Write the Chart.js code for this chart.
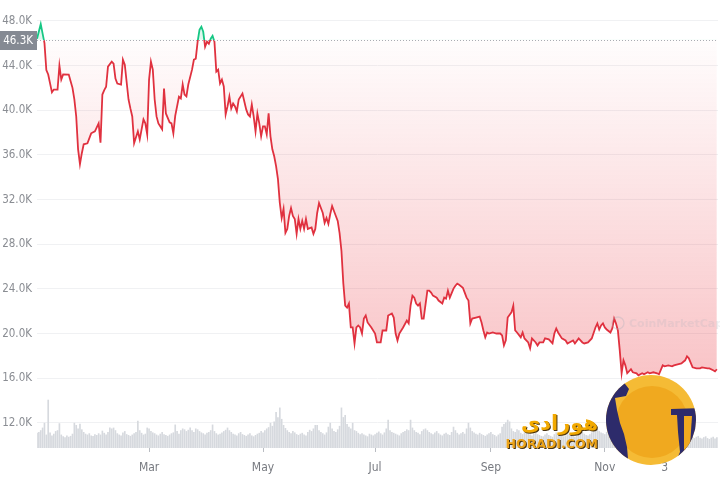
<!DOCTYPE html>
<html>
<head>
<meta charset="utf-8">
<script src="https://cdn.jsdelivr.net/npm/chart.js@4/dist/chart.umd.min.js"></script>
<style>
html,body{margin:0;padding:0;background:#fff;}
canvas{display:block;}
</style>
</head>
<body>
<canvas id="c" width="720" height="480"></canvas>
<script>
// ---- data (day index from 1 Jan 2022, price in thousands USD) ----
const BASELINE = 46.3;
const priceDays = [0,2,4,5,6,8,9,11,12,13,14,17,18,19,20,21,22,23,24,25,27,29,31,33,34,35,36,37,38,40,41,42,43,45,46,47,49,50,51,52,54,55,57,58,59,60,61,62,63,64,65,67,68,69,71,72,73,74,76,77,78,79,80,81,83,84,85,86,87,88,89,90,91,92,93,94,95,96,97,98,99,100,101,102,103,104,105,106,107,108,110,111,112,113,114,115,116,117,118,119,120,121,122,123,124,125,126,127,128,129,130,131,132,133,134,135,136,137,138,139,140,141,142,143,144,145,147,148,149,150,151,153,154,155,156,157,158,160,161,162,163,164,165,166,167,168,169,170,171,172,173,174,175,176,177,179,181,182,184,185,187,188,190,191,192,193,194,196,198,199,200,201,202,203,204,205,206,207,209,210,211,212,214,215,217,218,219,220,221,223,224,225,226,228,229,230,231,232,233,235,237,238,239,240,241,242,244,246,248,249,250,251,252,254,255,256,257,259,260,261,263,264,265,267,268,269,271,272,274,276,277,278,279,281,283,284,285,287,288,290,292,293,295,297,299,300,301,302,303,304,305,307,308,309,310,311,312,313,314,315,316,318,319,321,322,324,325,327,328,330,332,333,335,336,338,340,341,343,345,347,348,349,351,353,355,356,359,360,362,363,364];
const prices = [46.4,47.7,46.0,43.6,43.2,41.6,41.85,41.85,44.0,42.74,43.2,43.19,42.6,42.0,40.96,39.44,36.5,35.17,36.15,36.95,37.04,37.93,38.11,38.82,37.1,41.4,41.8,42.1,43.9,44.35,44.17,42.83,42.39,42.3,44.52,44.08,40.96,40.16,39.44,37.04,38.11,37.39,39.18,38.82,37.84,42.74,44.35,43.63,40.96,39.44,38.82,38.29,41.94,39.71,38.91,38.82,37.93,39.5,41.2,41.05,42.3,41.4,41.23,42.3,43.63,44.52,44.61,46.13,47.2,47.47,47.02,45.68,46.13,45.95,46.4,46.66,46.13,43.45,43.63,42.39,42.74,42.12,39.62,40.34,41.23,40.16,40.6,40.34,39.89,40.96,41.49,40.78,40.07,39.62,39.44,40.51,39.44,38.11,39.7,38.82,37.66,38.55,38.55,37.84,39.71,37.66,36.5,35.88,34.99,33.83,31.69,30.35,31.16,29.02,29.37,30.53,31.24,30.53,30.26,28.93,30.26,29.37,30.09,29.37,30.26,29.37,29.5,28.93,29.37,30.8,31.69,30.8,29.91,30.35,29.82,30.71,31.42,30.53,30.09,29.0,27.4,24.5,22.5,22.33,22.69,20.55,20.55,19.12,20.55,20.73,20.55,20.01,21.35,21.62,21.0,20.55,20.01,19.21,19.21,20.28,20.28,21.62,21.8,21.44,20.01,19.39,20.01,20.55,21.17,20.91,22.51,23.4,23.22,22.69,22.51,22.7,21.35,21.35,23.85,23.85,23.67,23.4,23.22,22.96,22.69,23.22,23.13,23.85,23.22,24.03,24.29,24.47,24.38,24.11,23.67,23.22,22.96,20.91,21.35,21.44,21.53,21.0,20.28,19.66,20.1,20.01,20.1,20.01,20.01,19.84,18.94,19.39,21.44,21.9,22.5,20.28,20.1,19.66,20.1,19.57,19.21,18.68,19.57,19.21,18.94,19.21,19.21,19.57,19.48,19.12,20.01,20.46,20.1,19.57,19.39,19.12,19.21,19.39,19.12,19.57,19.21,19.12,19.21,19.57,20.55,20.91,20.37,20.73,20.91,20.55,20.37,20.1,20.46,21.35,20.91,20.28,18.5,16.45,17.61,17.16,16.45,16.81,16.54,16.45,16.27,16.45,16.36,16.54,16.45,16.54,16.45,16.36,17.16,17.07,17.16,17.07,17.16,17.25,17.34,17.61,17.96,17.79,16.98,16.89,16.89,16.98,16.89,16.89,16.72,16.63,16.81];
// daily volume, billions USD (one per day, Jan 1 .. Dec 31)
const volumes = [
 34,36,40,46,57,30,110,35,28,32,
 38,40,56,30,26,24,28,25,27,32,
 57,52,44,55,42,36,32,30,33,28,
 27,31,29,33,30,39,34,30,36,46,
 44,46,40,33,30,28,35,38,31,29,
 27,30,33,36,62,40,34,30,32,46,
 44,38,35,33,30,28,32,36,31,29,
 27,30,33,35,53,38,32,40,44,42,
 38,41,46,40,36,44,42,38,35,33,
 30,34,36,40,53,38,33,30,32,35,
 38,41,46,40,36,32,30,28,33,36,
 31,29,27,30,33,28,26,29,32,34,
 38,35,40,44,47,57,50,60,82,70,
 92,66,52,45,40,36,33,38,35,31,
 29,32,34,30,28,36,41,38,44,52,
 52,40,36,33,30,35,48,57,44,38,
 36,42,50,92,70,75,54,48,44,57,
 40,38,34,31,33,30,28,26,32,30,
 28,31,34,37,33,30,35,44,64,40,
 36,34,32,30,28,33,36,38,42,40,
 64,46,40,36,34,31,38,42,44,40,
 36,33,31,35,38,33,30,28,32,34,
 31,29,36,48,40,34,30,33,36,32,
 44,57,46,38,35,32,30,34,31,29,
 27,30,33,36,31,29,26,30,33,48,
 54,58,64,60,44,38,36,42,40,34,
 31,35,38,33,30,28,32,34,31,29,
 27,26,30,33,29,27,25,31,35,32,
 29,27,26,28,31,33,30,27,25,28,
 30,33,36,32,29,28,31,35,38,45,
 42,38,35,33,31,36,40,48,55,76,
 110,98,85,70,60,52,45,40,38,36,
 40,38,35,33,31,30,34,36,33,30,
 28,30,32,29,27,26,28,31,29,27,
 25,27,30,26,24,23,25,28,33,30,
 26,24,22,25,27,23,21,24,26,22,
 20,23,25,21,24];
const xTickDays = [60, 121, 181, 243, 304, 336];
const xTickLabels = ['Mar', 'May', 'Jul', 'Sep', 'Nov', '3'];
const yTickValues = [12, 16, 20, 24, 28, 32, 36, 40, 44, 48];

const NARROW = '"Liberation Sans Narrow", "DejaVu Sans Condensed", Roboto, sans-serif';
const RED = '#e0313f', GREEN = '#16c784';

const priceData = priceDays.map((d, i) => ({x: d, y: prices[i]}));
const volData = volumes.map((v, i) => ({x: i, y: v}));

function lineGradient(c) {
  const chart = c.chart, area = chart.chartArea;
  if (!area) return RED;
  const yb = chart.scales.y.getPixelForValue(BASELINE);
  const g = chart.ctx.createLinearGradient(0, area.top, 0, area.bottom);
  const f = Math.min(1, Math.max(0, (yb - area.top) / (area.bottom - area.top)));
  g.addColorStop(0, GREEN); g.addColorStop(f, GREEN);
  g.addColorStop(f, RED); g.addColorStop(1, RED);
  return g;
}
function fillGradient(c) {
  const chart = c.chart, area = chart.chartArea;
  if (!area) return 'rgba(234,57,67,0.15)';
  const yb = chart.scales.y.getPixelForValue(BASELINE);
  const ylow = chart.scales.y.getPixelForValue(16);
  const g = chart.ctx.createLinearGradient(0, yb, 0, ylow);
  g.addColorStop(0, 'rgba(234,57,67,0.01)');
  g.addColorStop(1, 'rgba(234,57,67,0.30)');
  return g;
}

const overlay = {
  id: 'overlay',
  afterDatasetsDraw(chart) {
    const {ctx, chartArea} = chart;
    const yb = Math.round(chart.scales.y.getPixelForValue(BASELINE)) + 0.5;
    ctx.save();
    // dotted baseline
    ctx.strokeStyle = '#a9acb2';
    ctx.lineWidth = 1;
    ctx.setLineDash([1, 2]);
    ctx.beginPath(); ctx.moveTo(chartArea.left, yb); ctx.lineTo(chartArea.right, yb); ctx.stroke();
    ctx.setLineDash([]);
    // baseline label box
    ctx.fillStyle = '#858a93';
    ctx.fillRect(0, yb - 9.5, 37, 19);
    ctx.fillStyle = '#ffffff';
    ctx.font = '11.5px ' + NARROW;
    ctx.textAlign = 'right'; ctx.textBaseline = 'middle';
    ctx.fillText(BASELINE.toFixed(1) + 'K', 33, yb + 0.5);
    // faint CoinMarketCap watermark
    ctx.strokeStyle = 'rgba(175,178,186,0.35)';
    ctx.lineWidth = 1.3;
    ctx.beginPath(); ctx.arc(618, 323, 6, 0, Math.PI * 2); ctx.stroke();
    ctx.fillStyle = 'rgba(175,178,186,0.22)';
    ctx.font = 'bold 11px "DejaVu Sans", sans-serif';
    ctx.textAlign = 'left';
    ctx.fillText('CoinMarketCap', 629, 324);
    ctx.restore();
  },
  afterDraw(chart) {
    const ctx = chart.ctx;
    ctx.save();
    // HORADI logo disc
    const cx = 651, cy = 420, r = 45;
    ctx.beginPath(); ctx.arc(cx, cy, r, 0, Math.PI * 2);
    ctx.fillStyle = '#f5bb35'; ctx.fill();
    ctx.beginPath(); ctx.arc(cx + 1, cy + 2, r - 9, 0, Math.PI * 2);
    ctx.fillStyle = '#f0a91f'; ctx.fill();
    ctx.beginPath(); ctx.arc(cx, cy, r, 0, Math.PI * 2); ctx.clip();
    ctx.fillStyle = '#2d2b6b';
    ctx.beginPath();
    ctx.moveTo(600, 372); ctx.lineTo(622, 380); ctx.lineTo(629, 389); ctx.lineTo(626, 396);
    ctx.lineTo(615, 398); ctx.lineTo(617, 410); ctx.lineTo(620, 423); ctx.lineTo(624, 434);
    ctx.lineTo(627, 447); ctx.lineTo(629, 470); ctx.lineTo(600, 470); ctx.closePath(); ctx.fill();
    ctx.beginPath();
    ctx.moveTo(671, 409); ctx.lineTo(700, 408); ctx.lineTo(700, 470); ctx.lineTo(672, 470);
    ctx.lineTo(680, 452); ctx.lineTo(678, 432); ctx.lineTo(677, 415); ctx.lineTo(671, 415); ctx.closePath(); ctx.fill();
    ctx.fillStyle = '#f0a91f';
    ctx.beginPath();
    ctx.moveTo(684, 416); ctx.lineTo(692, 416); ctx.lineTo(690, 446); ctx.lineTo(684, 450); ctx.closePath(); ctx.fill();
    ctx.restore();
    ctx.save();
    // HORADI text
    ctx.textAlign = 'right'; ctx.textBaseline = 'alphabetic';
    ctx.font = 'bold 21px "DejaVu Sans", sans-serif';
    ctx.fillStyle = '#4a3410';
    ctx.fillText('هورادی', 599, 431);
    ctx.fillStyle = '#f2a900';
    ctx.fillText('هورادی', 598, 430);
    ctx.font = 'bold 12.5px "DejaVu Sans", sans-serif';
    ctx.fillStyle = '#4a3410';
    ctx.fillText('HORADI.COM', 599, 449);
    ctx.fillStyle = '#eca318';
    ctx.fillText('HORADI.COM', 598, 448);
    ctx.restore();
  }
};

new Chart(document.getElementById('c'), {
  data: {
    datasets: [
      {
        type: 'line',
        data: priceData,
        yAxisID: 'y',
        borderColor: lineGradient,
        backgroundColor: fillGradient,
        borderWidth: 1.8,
        pointRadius: 0,
        tension: 0,
        fill: {target: {value: BASELINE}, above: 'rgba(22,199,132,0.14)'},
        order: 1
      },
      {
        type: 'bar',
        data: volData,
        yAxisID: 'yv',
        backgroundColor: '#d6d9de',
        barThickness: 1,
        order: 2
      }
    ]
  },
  options: {
    responsive: false,
    animation: false,
    events: [],
    layout: {padding: {top: 10, right: 2, left: 0, bottom: 0}},
    plugins: {legend: {display: false}, tooltip: {enabled: false}},
    scales: {
      x: {
        type: 'linear', min: 0, max: 364.6, offset: false,
        afterBuildTicks: s => { s.ticks = xTickDays.map(v => ({value: v})); },
        afterFit: s => { s.height = 32; },
        ticks: {
          autoSkip: false, maxRotation: 0, padding: 9,
          color: '#777a80',
          font: {family: NARROW, size: 12},
          callback: v => { const i = xTickDays.indexOf(v); return i >= 0 ? xTickLabels[i] : ''; }
        },
        grid: {drawOnChartArea: false, drawTicks: true, tickLength: 4, color: '#b9bcc2', offset: false},
        border: {display: false}
      },
      y: {
        position: 'left', min: 9.76, max: 48.8,
        afterBuildTicks: s => { s.ticks = yTickValues.map(v => ({value: v})); },
        afterFit: s => { s.width = 37; },
        ticks: {
          padding: 5, color: '#8a8d93',
          font: {family: NARROW, size: 11.5},
          callback: v => Number(v).toFixed(1) + 'K'
        },
        grid: {color: '#f0f1f3', drawTicks: false},
        border: {display: false}
      },
      yv: {display: false, min: 0, max: 1000}
    }
  },
  plugins: [overlay]
});
</script>
</body>
</html>
